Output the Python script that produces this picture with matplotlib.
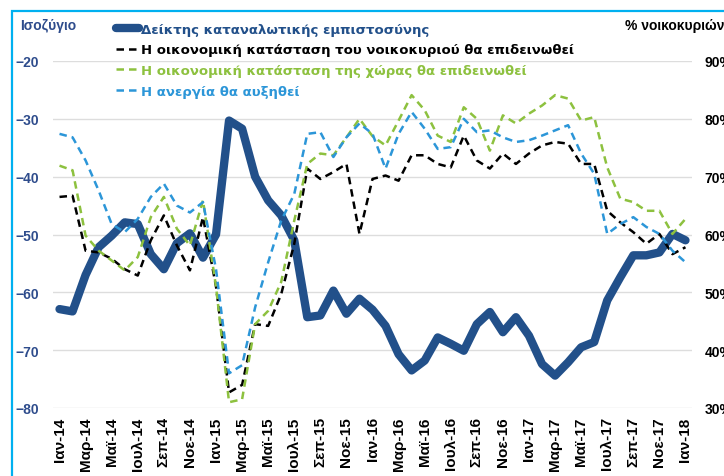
import matplotlib
matplotlib.use("Agg")
import matplotlib.pyplot as plt
from matplotlib.patches import Rectangle

plt.rcParams['font.family'] = ['Liberation Sans', 'DejaVu Sans']
plt.rcParams['font.weight'] = 'bold'

# μήνες Ιαν-14 .. Ιαν-18
minas = ['Ιαν', 'Φεβ', 'Μαρ', 'Απρ', 'Μαϊ', 'Ιουν', 'Ιουλ', 'Αυγ', 'Σεπ', 'Οκτ', 'Νοε', 'Δεκ']
etos = ['14', '15', '16', '17']
mines = [m + '-' + e for e in etos for m in minas] + ['Ιαν-18']

# Δείκτης καταναλωτικής εμπιστοσύνης (ισοζύγιο, αριστερός άξονας)
deiktis = [-62.9, -63.3, -57.0, -52.2, -50.2, -47.9, -48.2, -53.4, -56.0, -51.5,
           -49.8, -54.0, -50.0, -30.3, -31.7, -40.0, -44.1, -46.7, -51.0, -64.3,
           -64.0, -59.7, -63.7, -61.1, -63.0, -65.8, -70.7, -73.5, -71.8, -67.8,
           -68.9, -70.1, -65.5, -63.4, -66.9, -64.3, -67.5, -72.4, -74.4, -72.1,
           -69.5, -68.6, -61.4, -57.4, -53.6, -53.6, -53.1, -49.9, -51.0]

# % νοικοκυριών (δεξιός άξονας)
noikokyrio = [66.5, 66.7, 57.2, 56.9, 55.8, 54.0, 52.9, 59.0, 63.3, 58.1,
              53.8, 63.0, 51.0, 32.7, 34.0, 44.5, 44.2, 49.7, 58.4, 71.4,
              69.6, 70.8, 72.2, 60.1, 69.6, 70.2, 69.3, 73.7, 73.7, 72.2,
              71.6, 77.1, 72.8, 71.4, 74.0, 72.2, 74.0, 75.4, 76.0, 75.7,
              72.2, 72.2, 64.1, 62.1, 60.4, 58.4, 60.1, 56.6, 57.8]

xora = [71.9, 71.1, 59.8, 57.2, 55.5, 53.8, 56.1, 63.0, 66.5, 61.0,
        58.1, 65.9, 51.0, 31.0, 31.5, 44.5, 46.8, 51.8, 62.4, 72.2,
        74.0, 73.7, 76.8, 80.0, 77.0, 75.4, 79.7, 84.1, 81.5, 77.1,
        76.0, 82.0, 80.0, 74.5, 80.6, 79.2, 80.9, 82.3, 84.1, 83.5,
        79.7, 80.3, 71.6, 66.2, 65.6, 64.1, 64.1, 60.1, 62.7]

anergia = [77.4, 76.8, 72.8, 67.6, 61.8, 60.4, 62.7, 66.5, 68.8, 65.0,
           63.8, 65.6, 54.0, 36.0, 37.4, 47.4, 55.2, 62.4, 67.0, 77.4,
           77.7, 73.4, 76.8, 79.2, 77.4, 71.4, 77.4, 81.2, 78.3, 74.8,
           75.1, 80.0, 77.7, 78.0, 76.8, 76.0, 76.3, 77.1, 78.0, 78.9,
           74.0, 70.5, 60.1, 61.8, 63.0, 61.3, 60.1, 57.2, 55.2]

labels = ['Δείκτης καταναλωτικής εμπιστοσύνης',
          'Η οικονομική κατάσταση του νοικοκυριού θα επιδεινωθεί',
          'Η οικονομική κατάσταση της χώρας θα επιδεινωθεί',
          'Η ανεργία θα αυξηθεί']
xromata = ['#22508A', '#000000', '#8DC13F', '#2C96D8']

x = list(range(len(mines)))

fig = plt.figure(figsize=(7.24, 4.77), dpi=100)
ax = fig.add_axes([53 / 724, 1 - 409 / 477, (692 - 53) / 724, (409 - 62) / 477])
ax2 = ax.twinx()

l1, = ax.plot(x, deiktis, color=xromata[0], lw=6, solid_capstyle='round',
              solid_joinstyle='round', zorder=3)
l2, = ax2.plot(x, noikokyrio, color=xromata[1], lw=1.8, dashes=(3, 2))
l3, = ax2.plot(x, xora, color=xromata[2], lw=1.8, dashes=(3, 2))
l4, = ax2.plot(x, anergia, color=xromata[3], lw=1.8, dashes=(3, 2))

ax.set_xlim(-0.5, len(mines) - 0.5)
ax.set_ylim(-80, -20)
ax2.set_ylim(30, 90)
ax.set_yticks(range(-80, -19, 10))
ax2.set_yticks(range(30, 91, 10))
ax2.set_yticklabels([f'{v}%' for v in range(30, 91, 10)])

ax.set_xticks(x[::2])
ax.set_xticklabels(mines[::2], rotation=90, fontsize=11, fontweight='bold')
ax.tick_params(axis='x', length=0, pad=6)
ax.tick_params(axis='y', length=0, pad=10, labelcolor='#2E4C8C', labelsize=10)
ax2.tick_params(axis='y', length=0, pad=9, labelcolor='black', labelsize=10)

ax.grid(axis='y', color='#DDDDDD', lw=1)
ax.set_axisbelow(True)
for a in (ax, ax2):
    for s in a.spines.values():
        s.set_visible(False)

fig.text(20 / 724, 1 - 26 / 477, 'Ισοζύγιο', color='#2E4C8C', fontsize=10,
         fontweight='bold', va='center', ha='left')
fig.text(625 / 724, 1 - 26 / 477, '% νοικοκυριών', color='black', fontsize=10,
         fontweight='bold', va='center', ha='left')

leg = fig.legend([l1, l2, l3, l4], labels, loc='upper left',
                 bbox_to_anchor=(109 / 724, 1 - 17 / 477), frameon=False,
                 borderpad=0, handlelength=1.8, handletextpad=0.15,
                 labelspacing=0.58,
                 prop={'family': 'DejaVu Sans', 'size': 9.5, 'weight': 'bold'})
for t, c in zip(leg.get_texts(), xromata):
    t.set_color(c)

# πλαίσιο γραφήματος
fig.patches.append(Rectangle((12 / 724, -0.1), 1.2, 1.1 - 12 / 477,
                             transform=fig.transFigure, fill=False,
                             edgecolor='#00B0F0', lw=1.6))

fig.savefig('out.png', dpi=100)
